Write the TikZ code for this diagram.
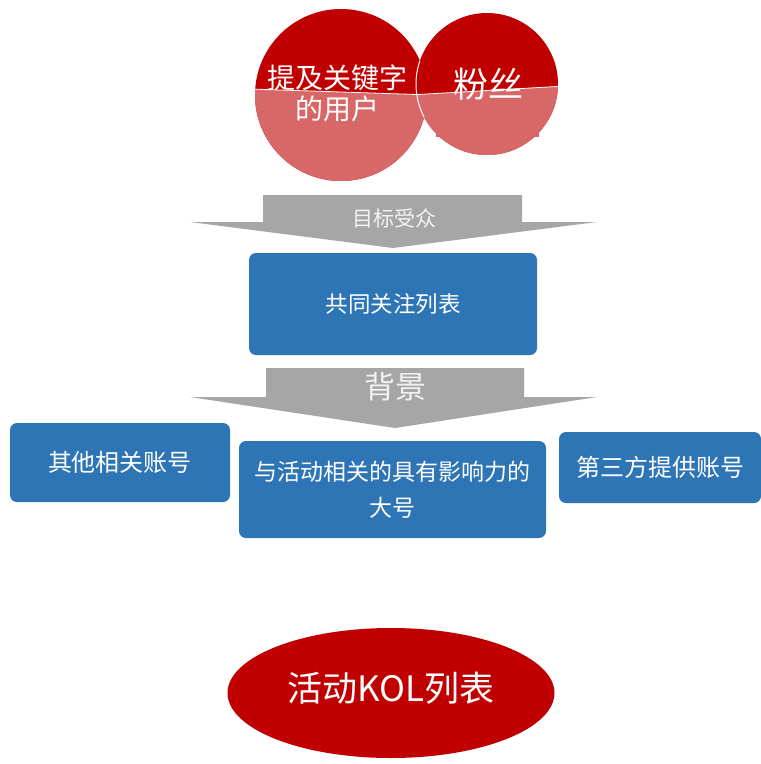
\documentclass[tikz,border=0pt]{standalone}
\usepackage{fontspec}
\setmainfont{Noto Sans CJK SC}
\usetikzlibrary{shapes.geometric}
\definecolor{dred}{HTML}{C00000}
\definecolor{lred}{HTML}{D86767}
\definecolor{boxblue}{HTML}{2E75B6}
\definecolor{agray}{HTML}{A6A6A6}
\definecolor{atext}{HTML}{F2F2F2}
\tikzset{
  bluebox/.style={fill=boxblue, rounded corners=7pt, text=white, inner sep=0pt, align=center, font=\fontsize{22}{36}\selectfont},
  arrowtxt/.style={text=atext, inner sep=0pt},
  bigarrow/.style={fill=agray, draw=none},
}
\begin{document}
\begin{tikzpicture}[x=1pt,y=-1pt]
\useasboundingbox (0,0) rectangle (761,764);
\fill[white] (0,0) rectangle (761,764);

% left circle
\begin{scope}
  \clip (341,95) circle (86);
  \fill[dred] (250,0) rectangle (430,190);
  \fill[lred] (250,89) -- (432,95) -- (432,190) -- (250,190) -- cycle;
  \draw[white, line width=0.8pt] (250,89) -- (432,95);
\end{scope}
% right circle
\fill[lred] (436,118) rectangle (539,137);
\begin{scope}
  \clip (487,84) circle (71);
  \fill[dred] (410,0) rectangle (565,160);
  \fill[lred] (410,95) -- (565,86) -- (565,160) -- (410,160) -- cycle;
  \draw[white, line width=0.8pt] (410,95) -- (565,86);
\end{scope}
\begin{scope}
  \clip (341,95) circle (86);
  \draw[white, line width=1pt] (487,84) circle (71);
\end{scope}
\node[text=white, align=center, inner sep=0pt, font=\fontsize{28}{31}\selectfont] (kw) at (337,93) {提及关键字\\的用户};
\node[text=white, inner sep=0pt, font=\fontsize{35}{40}\selectfont] (fans) at (488,84) {粉丝};

% arrow 1
\fill[bigarrow] (263,195) -- (522,195) -- (522,222) -- (597,222) -- (393,248) -- (190,222) -- (263,222) -- cycle;
\node[arrowtxt, font=\fontsize{21}{24}\selectfont] (aud) at (394,218) {目标受众};

% box 1
\node[bluebox, minimum width=288, minimum height=102, font=\fontsize{22.5}{36}\selectfont] (common) at (393,304) {共同关注列表};

% arrow 2
\fill[bigarrow] (266,368) -- (524,368) -- (524,397) -- (597,397) -- (395,428) -- (190,397) -- (266,397) -- cycle;
\node[arrowtxt, font=\fontsize{31}{34}\selectfont] (bg) at (395,387) {背景};

% row of boxes
\node[bluebox, minimum width=220, minimum height=79, font=\fontsize{24}{36}\selectfont] (other) at (120,462.5) {其他相关账号};
\node[bluebox, minimum width=307, minimum height=97, font=\fontsize{23}{36}\selectfont] (infl) at (392.5,489.5) {与活动相关的具有影响力的\\大号};
\node[bluebox, minimum width=202, minimum height=71, font=\fontsize{24}{36}\selectfont] (third) at (660,467.5) {第三方提供账号};

% bottom ellipse
\node[ellipse, fill=dred, inner sep=0pt, minimum width=327, minimum height=130] (kol) at (391,693) {};
\node[text=white, inner sep=0pt, font=\fontsize{35}{40}\selectfont] (koltxt) at (391,688) {活动KOL列表};
\end{tikzpicture}
\end{document}
